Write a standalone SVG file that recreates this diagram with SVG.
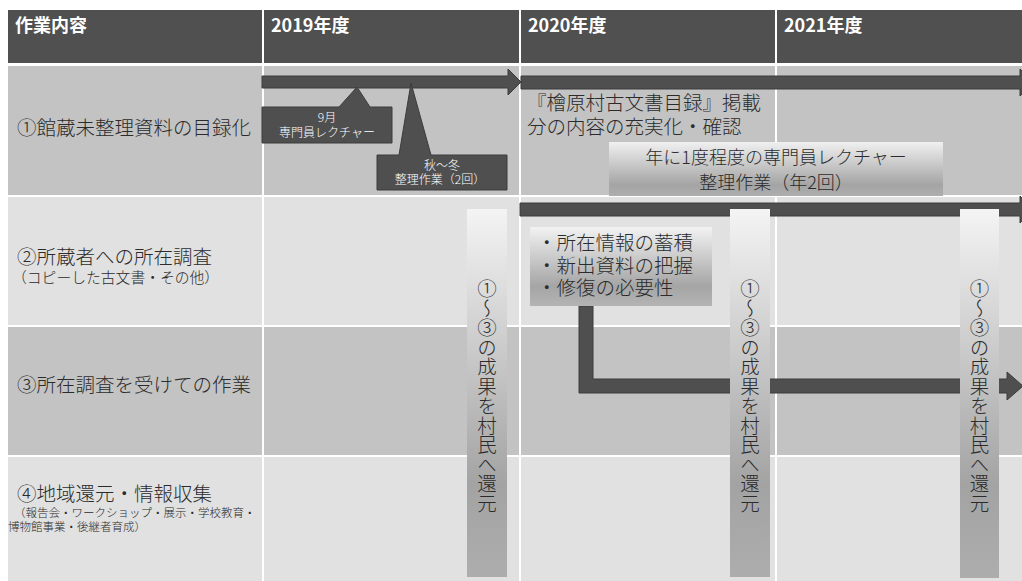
<svg xmlns="http://www.w3.org/2000/svg" width="1022" height="581" viewBox="0 0 1022 581">
<defs>
<linearGradient id="gBox" x1="0" y1="0" x2="0" y2="1">
<stop offset="0" stop-color="#f0f0f0"/>
<stop offset="0.8" stop-color="#a4a4a4"/>
<stop offset="1" stop-color="#aeaeae"/>
</linearGradient>
<linearGradient id="gInfo" x1="0" y1="0" x2="0" y2="1">
<stop offset="0" stop-color="#f2f2f2"/>
<stop offset="0.75" stop-color="#a5a5a5"/>
<stop offset="1" stop-color="#b4b4b4"/>
</linearGradient>
<linearGradient id="gBar" x1="0" y1="0" x2="0" y2="1">
<stop offset="0" stop-color="#f4f4f4"/>
<stop offset="0.75" stop-color="#a3a3a3"/>
<stop offset="1" stop-color="#adadad"/>
</linearGradient>
<style>
text{font-family:"Noto Sans CJK JP","Noto Sans",sans-serif;fill:#2b2b2b;font-weight:300}
.hd{fill:#505050}
.r1{fill:#c3c3c3}
.r2{fill:#e1e1e1}
.ht{fill:#ffffff;font-size:18px;font-weight:bold}
.lb{font-size:19.5px}
.sm{font-size:14.8px}
.xs{font-size:11.5px}
.dk{fill:#4f4f4f;stroke:#3c3c3c;stroke-width:1}
.ct{fill:#ffffff;font-size:12px;text-anchor:middle}
.md{font-size:18px}
.vb{fill:url(#gBar)}
.vt{font-size:19.5px;writing-mode:vertical-rl}
</style>
</defs>
<rect width="1022" height="581" fill="#ffffff"/>
<g id="header">
<rect class="hd" x="8" y="10" width="254" height="53"/>
<rect class="hd" x="264" y="10" width="255" height="53"/>
<rect class="hd" x="521" y="10" width="254" height="53"/>
<rect class="hd" x="777" y="10" width="245" height="53"/>
<text class="ht" x="15" y="32">作業内容</text>
<text class="ht" x="271" y="32">2019年度</text>
<text class="ht" x="528" y="32">2020年度</text>
<text class="ht" x="784" y="32">2021年度</text>
</g>
<g id="row1">
<rect class="r1" x="8" y="66" width="254" height="129"/>
<rect class="r1" x="264" y="66" width="255" height="129"/>
<rect class="r1" x="521" y="66" width="254" height="129"/>
<rect class="r1" x="777" y="66" width="245" height="129"/>
<text class="lb" x="17" y="135">①館蔵未整理資料の目録化</text>
</g>
<g id="row2">
<rect class="r2" x="8" y="197" width="254" height="128"/>
<rect class="r2" x="264" y="197" width="255" height="128"/>
<rect class="r2" x="521" y="197" width="254" height="128"/>
<rect class="r2" x="777" y="197" width="245" height="128"/>
<text class="lb" x="17" y="264">②所蔵者への所在調査</text>
<text class="sm" x="12" y="282.5">（コピーした古文書・その他）</text>
</g>
<g id="row3">
<rect class="r1" x="8" y="327" width="254" height="128"/>
<rect class="r1" x="264" y="327" width="255" height="128"/>
<rect class="r1" x="521" y="327" width="254" height="128"/>
<rect class="r1" x="777" y="327" width="245" height="128"/>
<text class="lb" x="17" y="392">③所在調査を受けての作業</text>
</g>
<g id="row4">
<rect class="r2" x="8" y="457" width="254" height="124"/>
<rect class="r2" x="264" y="457" width="255" height="124"/>
<rect class="r2" x="521" y="457" width="254" height="124"/>
<rect class="r2" x="777" y="457" width="245" height="124"/>
<text class="lb" x="17" y="501">④地域還元・情報収集</text>
<text class="xs" x="14" y="517">（報告会・ワークショップ・展示・学校教育・</text>
<text class="xs" x="8" y="531">博物館事業・後継者育成）</text>
</g>
<g id="connectors">
<polygon class="dk" points="262,76 508,76 508,69 521,82 508,95 508,88 262,88"/>
<polygon class="dk" points="521,76 1020,76 1020,69 1034,82.5 1020,96 1020,89 521,89"/>
<polygon class="dk" points="520,203 1020,203 1020,196 1034,209.5 1020,223 1020,216 520,216"/>
<polygon class="dk" points="579,306 593,306 593,379 1007,379 1007,372 1023,386 1007,400 1007,393 579,393"/>
</g>
<g id="callout-lecture">
<polygon class="dk" points="262,107 339,107 357,87 370,107 392,107 392,143 262,143"/>
<text class="ct" x="327" y="121.5">9月</text>
<text class="ct" x="327" y="136.5">専門員レクチャー</text>
</g>
<g id="callout-work">
<polygon class="dk" points="377,155 399,155 411,83 431,155 507,155 507,190 377,190"/>
<text class="ct" x="442" y="169.5">秋〜冬</text>
<text class="ct" x="440" y="184">整理作業（2回）</text>
</g>
<g id="catalog-note">
<text class="lb" x="527" y="110">『檜原村古文書目録』掲載</text>
<text class="lb" x="527" y="134">分の内容の充実化・確認</text>
</g>
<g id="annual-box">
<rect x="609" y="142" width="334" height="54" fill="url(#gBox)"/>
<text class="md" x="776" y="164" text-anchor="middle">年に1度程度の専門員レクチャー</text>
<text class="md" x="776" y="189" text-anchor="middle">整理作業（年2回）</text>
</g>
<g id="info-box">
<rect x="530" y="227" width="182" height="79" fill="url(#gInfo)"/>
<text class="lb" x="537" y="250">・所在情報の蓄積</text>
<text class="lb" x="537" y="273">・新出資料の把握</text>
<text class="lb" x="537" y="295">・修復の必要性</text>
</g>
<g id="return-1">
<rect class="vb" x="467" y="209" width="40" height="368"/>
<text class="vt" x="487" y="279">①〜③の成果を村民へ還元</text>
</g>
<g id="return-2">
<rect class="vb" x="730" y="209" width="40" height="368"/>
<text class="vt" x="750" y="279">①〜③の成果を村民へ還元</text>
</g>
<g id="return-3">
<rect class="vb" x="960" y="209" width="39" height="369"/>
<text class="vt" x="979.5" y="279">①〜③の成果を村民へ還元</text>
</g>
</svg>
